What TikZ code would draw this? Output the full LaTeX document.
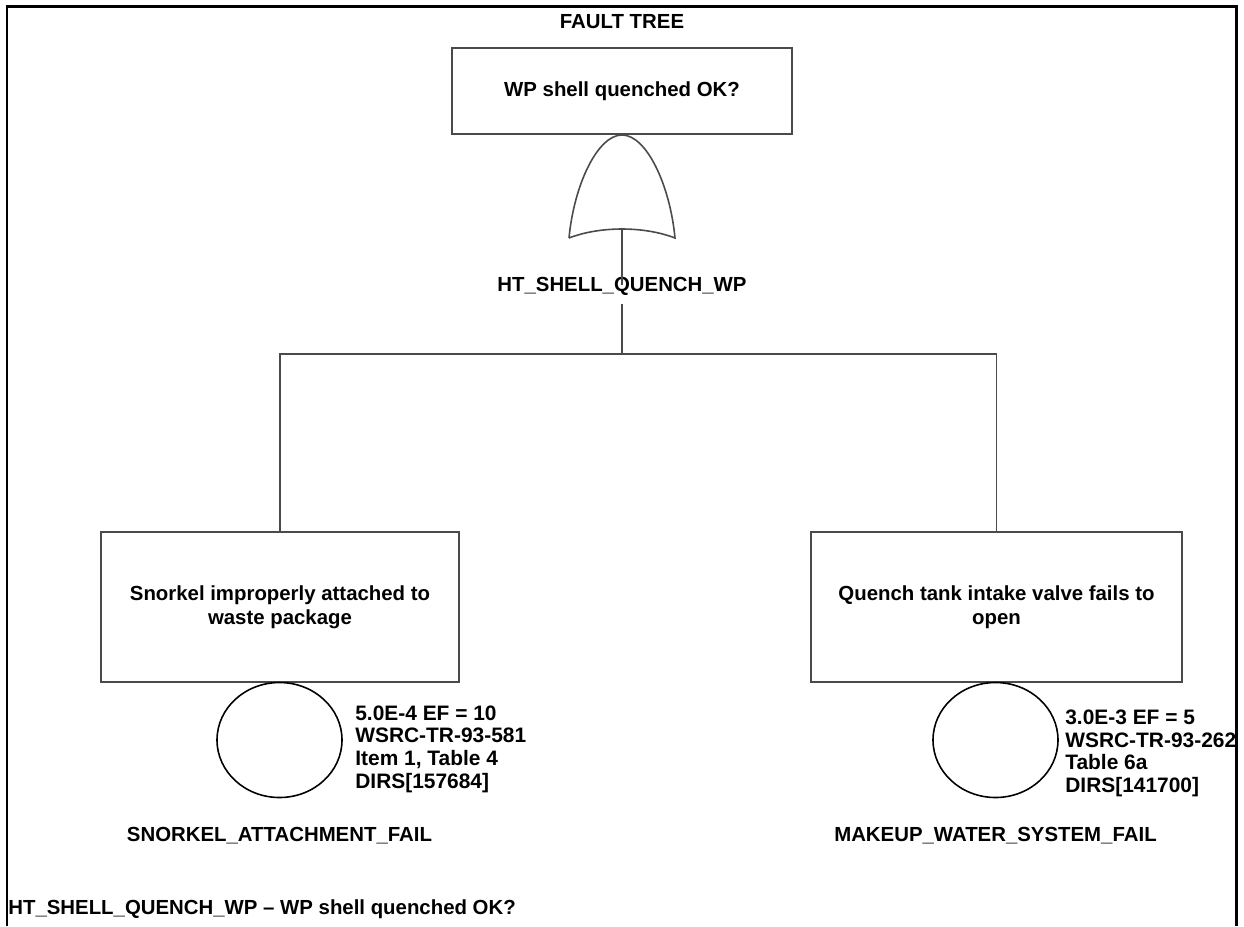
\documentclass[tikz,border=0pt]{standalone}
\usepackage{fontspec}
\setmainfont{Liberation Sans}
\usetikzlibrary{shapes.geometric}
\definecolor{linegray}{HTML}{4A4A4A}

\begin{document}
\begin{tikzpicture}[x=1cm,y=1cm,
  font=\bfseries\fontsize{11.6}{13.4}\selectfont,
  evbox/.style={draw=linegray,line width=1.1pt,align=center},
  basicev/.style={ellipse,draw=black,line width=0.9pt,minimum width=2.5cm,minimum height=2.3cm,inner sep=0pt},
  evtext/.style={anchor=west,align=left,inner sep=0pt,font=\bfseries\fontsize{11.9}{12.9}\selectfont},
  tag/.style={inner sep=0pt}]
\useasboundingbox (0,0) rectangle (24.88,-18.52);
% page frame, open at the bottom
\draw[line width=1.7pt] (0.14,-18.52) -- (0.14,-0.12) -- (24.72,-0.12) -- (24.72,-18.52);

\node[tag] (title) at (12.44,-0.43) {FAULT TREE};

\node[evbox,minimum width=6.8cm,minimum height=1.72cm] (top) at (12.44,-1.82) {WP shell quenched OK?};

% OR gate
\coordinate (gatein) at (12.44,-4.58);
\draw[linegray,line width=0.9pt] (11.38,-4.76) .. controls (11.48,-3.7) and (11.95,-2.7) .. (top.south)
  .. controls (12.93,-2.7) and (13.40,-3.7) .. (13.50,-4.76)
  .. controls (12.88,-4.52) and (12.0,-4.52) .. (11.38,-4.76);

\node[tag] (gatename) at (12.44,-5.72) {HT\_SHELL\_QUENCH\_WP};
\draw[linegray,line width=0.9pt] (gatein) -- ([yshift=-5pt]gatename.north);

\node[evbox,minimum width=7.16cm,minimum height=3cm] (snorkel) at (5.6,-12.14) {Snorkel improperly attached to\\waste package};
\node[evbox,minimum width=7.42cm,minimum height=3cm] (makeup) at (19.93,-12.14) {Quench tank intake valve fails to\\open};

\coordinate (bar) at (12.44,-7.08);
\draw[linegray,line width=1.1pt] ([yshift=-5pt]gatename.south) -- (bar);
\draw[linegray,line width=1.1pt] (snorkel.north) |- (bar) -| (makeup.north);

% basic events
\node[basicev] (snorkelev) at (5.59,-14.8) {};
\node[basicev] (makeupev) at (19.91,-14.8) {};

\node[evtext] (snorkeldata) at (7.1,-14.98) {5.0E-4 EF = 10\\WSRC-TR-93-581\\Item 1, Table 4\\DIRS[157684]};
\node[evtext] (makeupdata) at (21.3,-15.07) {3.0E-3 EF = 5\\WSRC-TR-93-262\\Table 6a\\DIRS[141700]};

\node[tag] (snorkelname) at (5.59,-16.72) {SNORKEL\_ATTACHMENT\_FAIL};
\node[tag] (makeupname) at (19.91,-16.72) {MAKEUP\_WATER\_SYSTEM\_FAIL};

\node[tag,anchor=west] (caption) at (0.16,-18.18) {HT\_SHELL\_QUENCH\_WP -- WP shell quenched OK?};
\end{tikzpicture}
\end{document}
